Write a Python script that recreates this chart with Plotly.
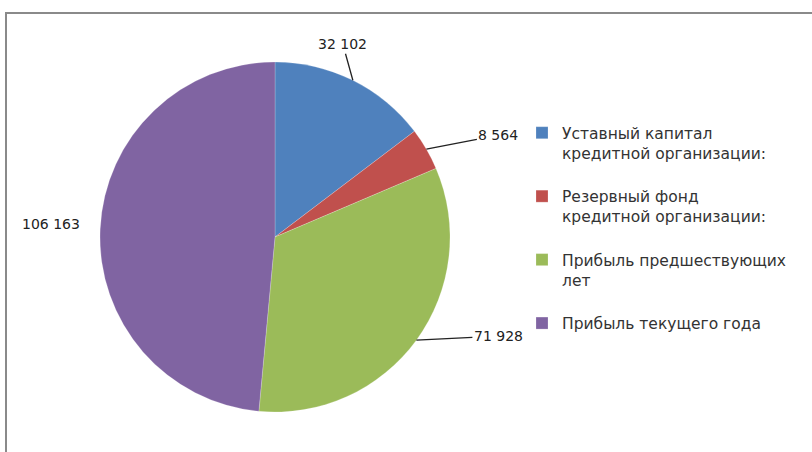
import math
import plotly.graph_objects as go

labels = [
    "<br>Уставный капитал<br>кредитной организации:",
    "<br>Резервный фонд<br>кредитной организации:",
    "<br>Прибыль предшествующих<br>лет",
    "<br>Прибыль текущего года<br> ",
]
values = [32102, 8564, 71928, 106163]
colors = ["#4F81BD", "#C0504D", "#9BBB59", "#8064A2"]

# label offsets (pixels, from slice edge to label centre) and leader-line flags
label_offsets = [(-10, -36), (72, -14), (82, -4), (-49, -5)]
leader_lines = [True, True, True, False]

W, H = 812, 452
cx, cy, r = 275, 237, 175  # pie centre / radius in pixels

fig = go.Figure()
fig.add_trace(go.Pie(
    labels=labels,
    values=values,
    sort=False,
    direction="clockwise",
    rotation=0,
    marker=dict(colors=colors, line=dict(color="rgba(255,255,255,0.4)", width=0.5)),
    textinfo="none",
    hoverinfo="value",
    domain=dict(x=[(cx - r) / W, (cx + r) / W], y=[1 - (cy + r) / H, 1 - (cy - r) / H]),
))

total = sum(values)
cum = 0
for v, (ox, oy), show in zip(values, label_offsets, leader_lines):
    mid = (cum + v / 2) / total * 2 * math.pi
    cum += v
    ex = cx + r * math.sin(mid)
    ey = cy - r * math.cos(mid)
    txt = f"{v:,}".replace(",", " ")
    font = dict(family="DejaVu Sans", size=14, color="#222")
    if show:
        fig.add_annotation(
            x=ex / W, y=1 - ey / H, xref="paper", yref="paper",
            ax=ox, ay=oy, axref="pixel", ayref="pixel",
            text=txt, showarrow=True, arrowhead=0, arrowwidth=1.3,
            arrowcolor="#222", font=font, standoff=0, startstandoff=0,
        )
    else:
        fig.add_annotation(
            x=(ex + ox) / W, y=1 - (ey + oy) / H, xref="paper", yref="paper",
            xanchor="center", yanchor="middle",
            text=txt, showarrow=False, font=font,
        )

fig.add_shape(type="rect", xref="paper", yref="paper",
              x0=6 / W, y0=-0.05, x1=1.05, y1=1 - 13 / H,
              line=dict(color="#8a8a8a", width=2), fillcolor="rgba(0,0,0,0)")

fig.update_layout(
    width=W, height=H,
    margin=dict(l=0, r=0, t=0, b=0),
    paper_bgcolor="white", plot_bgcolor="white",
    showlegend=True,
    legend=dict(
        x=522 / W, y=1 - 96 / H, xanchor="left", yanchor="top",
        font=dict(family="DejaVu Sans", size=15.5, color="#333"),
        traceorder="normal",
        bgcolor="rgba(0,0,0,0)", itemwidth=30,
    ),
)

fig.write_html("out.html", config={"displayModeBar": False},
               post_script="document.body.style.margin='0';")
